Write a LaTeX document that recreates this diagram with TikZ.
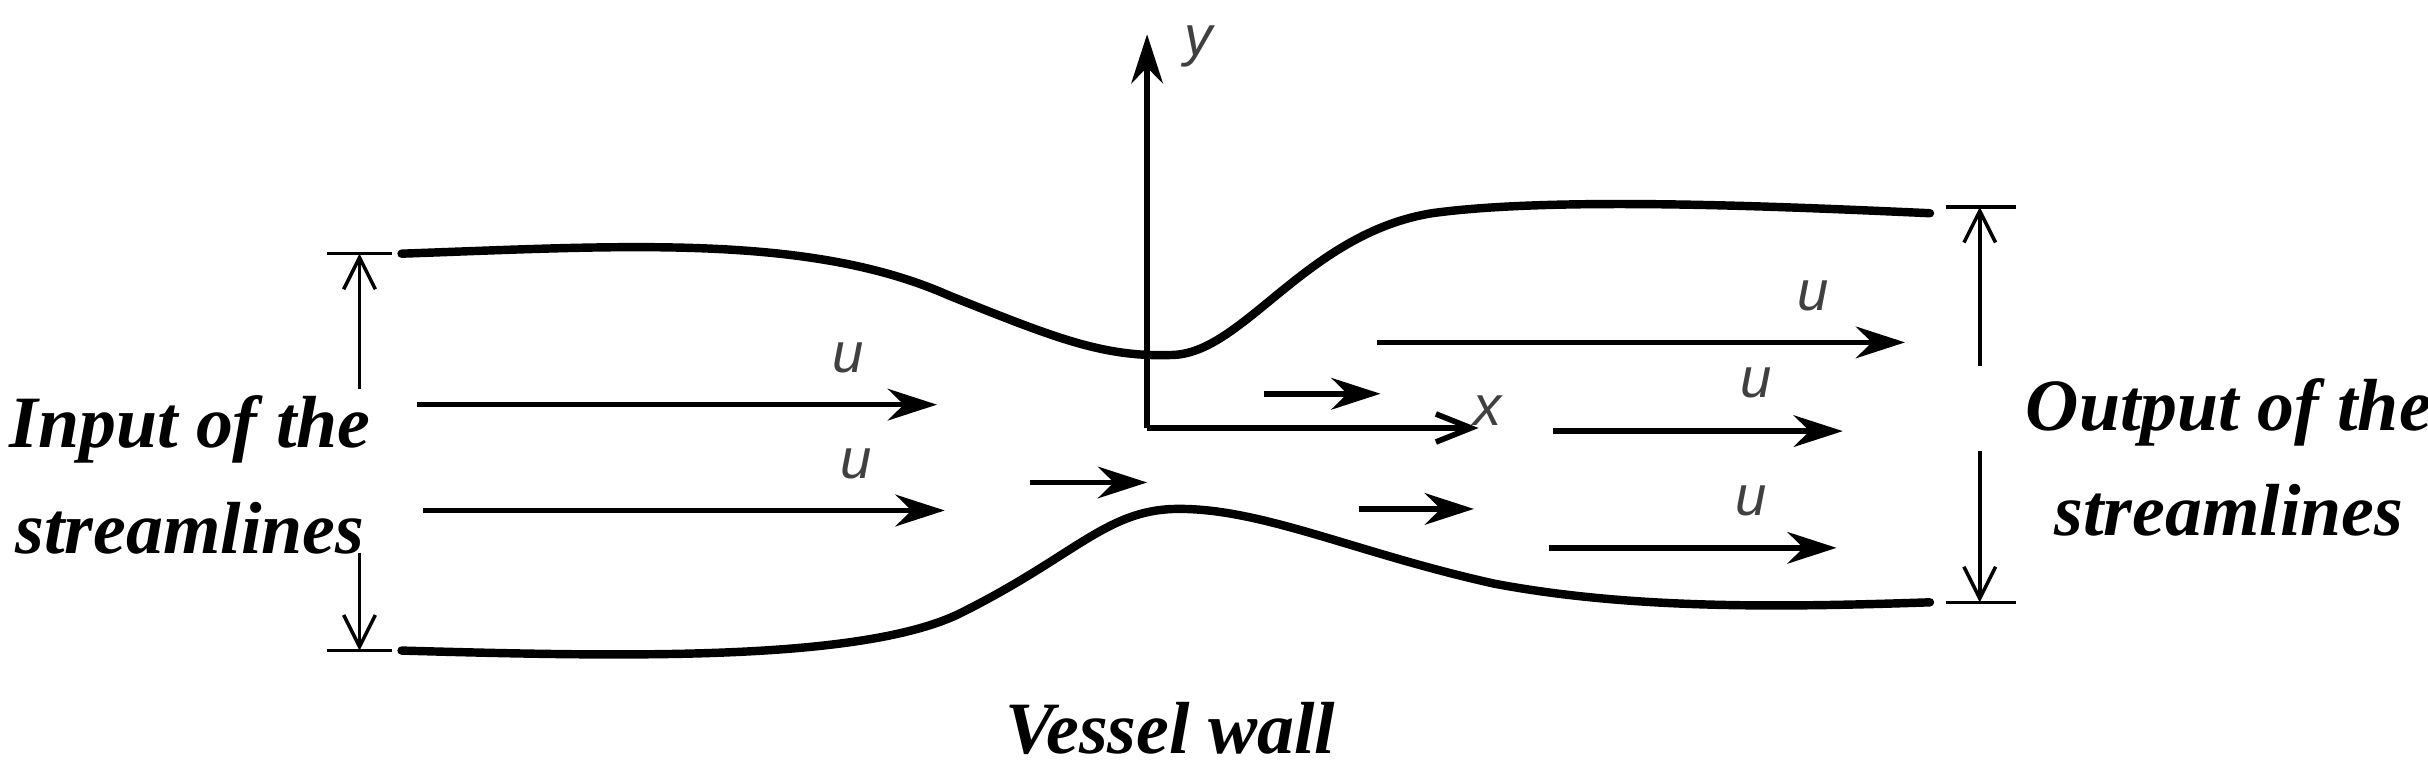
\documentclass[tikz,border=0pt]{standalone}
\usepackage{fontspec}
\setmainfont{Liberation Serif}
\newfontfamily\labfont{Liberation Sans}
\usetikzlibrary{arrows.meta}
\begin{document}
\begin{tikzpicture}[x=0.015565cm,y=-0.015565cm,
  wall/.style={line width=2.4pt,line cap=round},
  flow/.style={line width=1.6pt,-{Stealth[length=14pt,width=9pt]}},
  dim/.style={line width=1pt,-{Straight Barb[length=9pt,width=9pt]}},
  tick/.style={line width=1pt},
  ulab/.style={font=\labfont\itshape\fontsize{16}{16}\selectfont,text=black!75},
  big/.style={font=\bfseries\itshape\fontsize{21}{30}\selectfont,align=center}]
\useasboundingbox (0,0) rectangle (1560,498.5);
% walls
\draw[wall] (258,163) .. controls (400,158) and (520,150) .. (610,190)
  .. controls (680,218) and (710,230) .. (755,228)
  .. controls (800,225) and (840,150) .. (920,137)
  .. controls (1000,126) and (1150,133) .. (1240,137);
\draw[wall] (258,418) .. controls (400,422) and (550,425) .. (615,395)
  .. controls (690,358) and (710,328) .. (755,327)
  .. controls (810,326) and (870,355) .. (960,375)
  .. controls (1050,392) and (1150,390) .. (1240,387);
% left dimension
\draw[tick] (210,163) -- (252,163);
\draw[tick] (210,418) -- (252,418);
\coordinate (lt) at (231,163); \coordinate (lb) at (231,418);
\coordinate (lm1) at (231,250); \coordinate (lm2) at (231,355);
\draw[dim] (lm1) -- (lt);
\draw[dim] (lm2) -- (lb);
% right dimension
\draw[tick] (1250,133) -- (1295,133);
\draw[tick] (1250,387) -- (1295,387);
\coordinate (rt) at (1272,133); \coordinate (rb) at (1272,387);
\coordinate (rm1) at (1272,235); \coordinate (rm2) at (1272,290);
\draw[dim] (rm1) -- (rt);
\draw[dim] (rm2) -- (rb);
% axes
\coordinate (o) at (737,275);
\coordinate (ye) at (737,22);
\coordinate (xe) at (950,275);
\draw[flow] (o) -- (ye);
\draw[line width=1.6pt,-{Straight Barb[length=10pt,width=8pt]}] (o) -- (xe);
\node[ulab] (ylab) at (770,30) {y};
\node[ulab] (xlab) at (956,264) {x};
% flow arrows
\coordinate (a1) at (268,260); \coordinate (b1) at (602,260);
\coordinate (a2) at (272,328); \coordinate (b2) at (607,328);
\coordinate (a3) at (662,310); \coordinate (b3) at (737,310);
\coordinate (a4) at (812,253); \coordinate (b4) at (887,253);
\coordinate (a5) at (885,220); \coordinate (b5) at (1224,220);
\coordinate (a6) at (998,277); \coordinate (b6) at (1184,277);
\coordinate (a7) at (873,327); \coordinate (b7) at (947,327);
\coordinate (a8) at (995,352); \coordinate (b8) at (1180,352);
\foreach \i in {1,...,8} {\draw[flow] (a\i) -- (b\i);}
\node[ulab] (u1) at (545,230) {u};
\node[ulab] (u2) at (550,298) {u};
\node[ulab] (u5) at (1165,190) {u};
\node[ulab] (u6) at (1128,246) {u};
\node[ulab] (u8) at (1125,322) {u};
% texts
\node[big] (inp) at (122,305) {Input of the\\streamlines};
\node[big] (outp) at (1432,294) {Output of the\\streamlines};
\node[big] (vw) at (752,468) {Vessel wall};
\end{tikzpicture}
\end{document}
